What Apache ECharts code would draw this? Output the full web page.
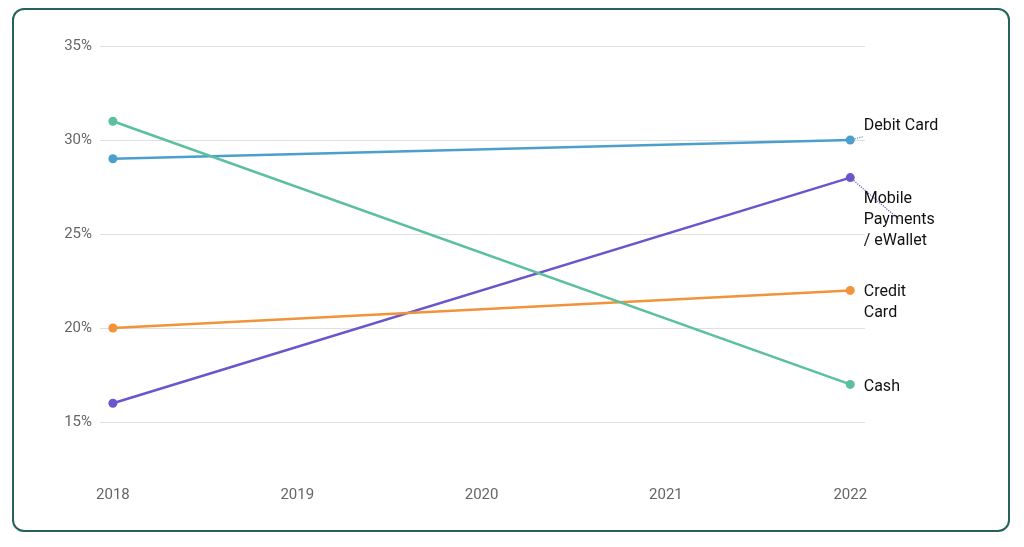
<!DOCTYPE html>
<html><head><meta charset="utf-8">
<script src="https://cdn.jsdelivr.net/npm/echarts@6/dist/echarts.min.js"></script>
<style>
body{margin:0;background:#fff;}
#box{position:absolute;left:12px;top:8px;width:998px;height:524px;border:2px solid #24625b;border-radius:12px;box-sizing:border-box;}
#chart{position:absolute;left:0;top:0;width:1024px;height:547px;}
</style></head><body>
<div id="box"></div>
<div id="chart"></div>
<script>
const years = [2018, 2022];
const tickYears = [2018, 2019, 2020, 2021, 2022];
const debit = [29, 30];
const mobile = [16, 28];
const credit = [20, 22];
const cash = [31, 17];

function mk(name, label, vals, color, off, connector) {
    return {
        name: name, type: 'line', symbolSize: 9, symbol: 'circle',
        lineStyle: {width: 2.5, color: color}, itemStyle: {color: color},
        data: vals.map((v, i) => {
            let p = {value: [years[i], v]};
            if (i === vals.length - 1) {
                p.label = {show: true, formatter: label, position: 'right', offset: off,
                    color: '#111', fontSize: 16, lineHeight: 21, align: 'left',
                    fontFamily: 'Roboto'};
                p.labelLine = {show: connector, lineStyle: {type: 'dotted', color: color, width: 1.2}};
            }
            return p;
        })
    };
}

let chart = echarts.init(document.getElementById('chart'));
chart.setOption({
    animation: false,
    grid: {left: 100, right: 159, top: 46, bottom: 125},
    xAxis: {
        type: 'value', min: 2017.93, max: 2022.08,
        axisLine: {show: false}, axisTick: {show: false}, splitLine: {show: false},
        axisLabel: {customValues: tickYears, margin: 66, color: '#666', fontSize: 15, fontFamily: 'Roboto',
            formatter: v => String(v)}
    },
    yAxis: {
        type: 'value', min: 15, max: 35, interval: 5,
        axisLine: {show: false}, axisTick: {show: false},
        axisLabel: {formatter: '{value}%', color: '#666', fontSize: 15, fontFamily: 'Roboto', margin: 8},
        splitLine: {lineStyle: {color: '#e0e0e0'}}
    },
    series: [
        mk('Debit Card', 'Debit Card', debit, '#4a9fcc', [4, -14], true),
        mk('Mobile Payments / eWallet', 'Mobile\nPayments\n/ eWallet', mobile, '#6a56cc', [4, 42], true),
        mk('Credit Card', 'Credit\nCard', credit, '#f0933a', [4, 12], false),
        mk('Cash', 'Cash', cash, '#5cbf9e', [4, 3], false)
    ]
});
</script>
</body></html>
